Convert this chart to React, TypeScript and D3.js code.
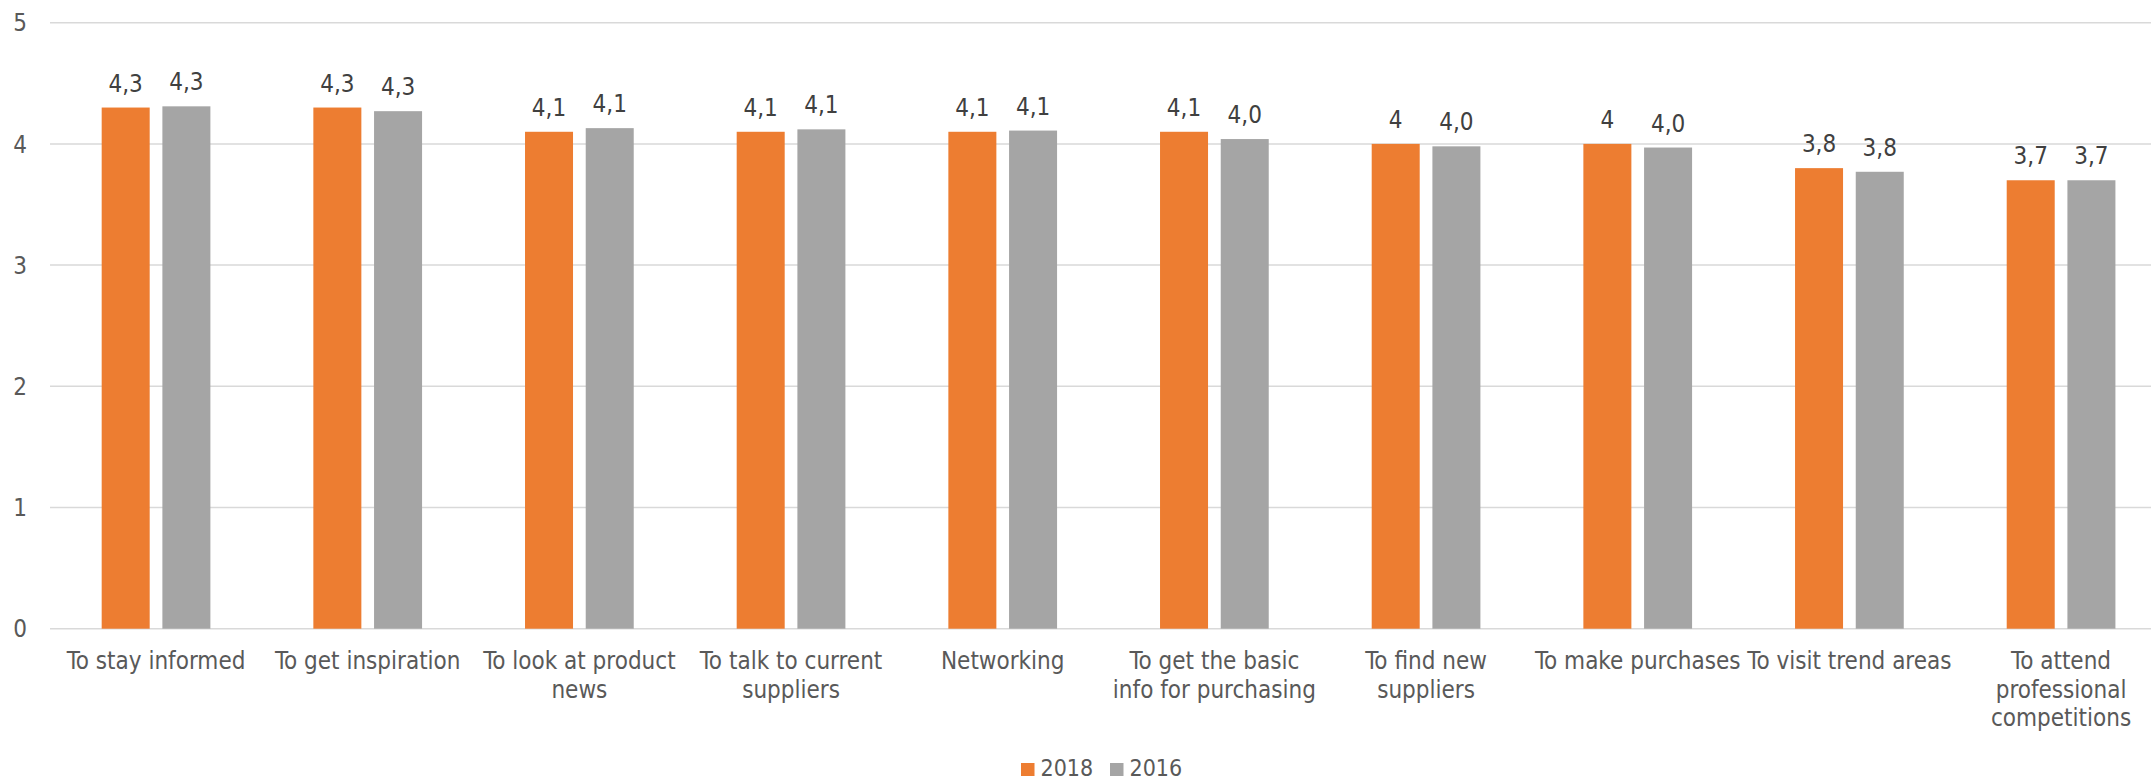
import React from "react";
import * as d3 from "d3";

const categories = [
  "To stay informed",
  "To get inspiration",
  "To look at product\nnews",
  "To talk to current\nsuppliers",
  "Networking",
  "To get the basic\ninfo for purchasing",
  "To find new\nsuppliers",
  "To make purchases",
  "To visit trend areas",
  "To attend\nprofessional\ncompetitions",
];
const values2018 = [4.3, 4.3, 4.1, 4.1, 4.1, 4.1, 4, 4, 3.8, 3.7];
const values2016 = [4.31, 4.27, 4.13, 4.12, 4.11, 4.04, 3.98, 3.97, 3.77, 3.7];
const seriesNames = ["2018", "2016"];
const seriesColors = ["#ED7D31", "#A5A5A5"];
const yTicks = [0, 1, 2, 3, 4, 5];

const W = 2151;
const H = 782;
const FONT = "'DejaVu Sans Condensed', 'Liberation Sans', sans-serif";

const fmt2018 = (v: number) => String(v).replace(".", ",");
const fmt2016 = (v: number) => d3.format(".1f")(v).replace(".", ",");

export default function App() {
  const y = d3.scaleLinear().domain([0, 5]).range([628.7, 22.7]);
  const x = d3.scaleBand<string>().domain(categories).range([50.2, 2166.9]).padding(0);
  const bw = x.bandwidth();
  const barW = bw * 0.2268;
  const gap = bw * 0.06;
  const groupW = barW * 2 + gap;
  const inner = d3
    .scaleOrdinal<string, number>()
    .domain(seriesNames)
    .range([(bw - groupW) / 2, (bw - groupW) / 2 + barW + gap]);
  const series = [
    { name: seriesNames[0], values: values2018, fmt: fmt2018, color: seriesColors[0] },
    { name: seriesNames[1], values: values2016, fmt: fmt2016, color: seriesColors[1] },
  ];

  return (
    <svg
      width={W}
      height={H}
      style={{ position: "absolute", left: 0, top: 0, background: "#fff" }}
      fontFamily={FONT}
    >
      {yTicks.map((t) => (
        <g key={t}>
          <line x1={50} x2={W} y1={y(t)} y2={y(t)} stroke="#D9D9D9" strokeWidth={1.5} />
          <text x={27} y={y(t)} dy="0.36em" textAnchor="end" fontSize={24} fill="#595959">
            {t}
          </text>
        </g>
      ))}
      {series.map((s) =>
        categories.map((c, i) => {
          const bx = (x(c) as number) + (inner(s.name) as number);
          const v = s.values[i];
          return (
            <g key={s.name + c}>
              <rect x={bx} y={y(v)} width={barW} height={y(0) - y(v)} fill={s.color} />
              <text
                x={bx + barW / 2}
                y={y(v) - 16}
                textAnchor="middle"
                fontSize={24}
                fill="#404040"
              >
                {s.fmt(v)}
              </text>
            </g>
          );
        })
      )}
      {categories.map((c) => {
        const cx = (x(c) as number) + bw / 2;
        return (
          <text key={c} x={cx} y={669.3} textAnchor="middle" fontSize={24} fill="#595959">
            {c.split("\n").map((line, li) => (
              <tspan key={li} x={cx} y={669.3 + li * 28.4}>
                {line}
              </tspan>
            ))}
          </text>
        );
      })}
      {series.map((s, i) => {
        const lx = 1021 + i * 89;
        return (
          <g key={s.name}>
            <rect x={lx} y={763} width={13.5} height={13} fill={s.color} />
            <text x={lx + 19.5} y={776} fontSize={23} fill="#595959">
              {s.name}
            </text>
          </g>
        );
      })}
    </svg>
  );
}
